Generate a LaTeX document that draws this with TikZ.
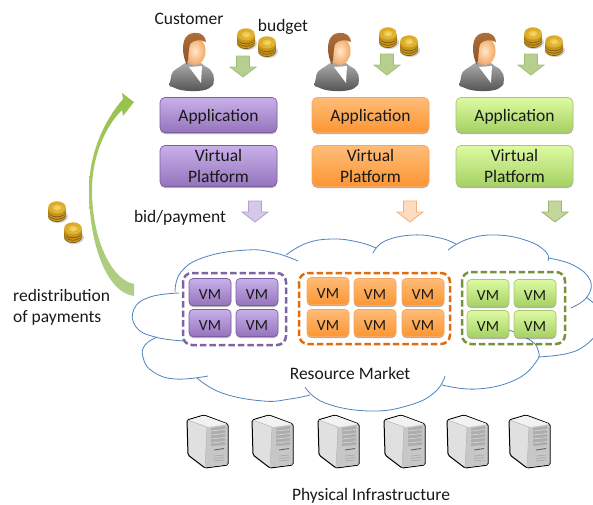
\documentclass[tikz,border=0pt]{standalone}
\usepackage{fontspec}
\setmainfont{Carlito}
\usetikzlibrary{shadows}
\definecolor{cloudline}{HTML}{4F81BD}
\definecolor{purpT}{HTML}{C9B0EA}\definecolor{purpB}{HTML}{9474BC}\definecolor{purpE}{HTML}{7C5EA0}
\definecolor{orT}{HTML}{FFBC78}\definecolor{orB}{HTML}{FC9633}\definecolor{orE}{HTML}{F7A765}
\definecolor{grT}{HTML}{DDFBA2}\definecolor{grB}{HTML}{A5D163}\definecolor{grE}{HTML}{A6C673}
\definecolor{dashP}{HTML}{8064A2}\definecolor{dashO}{HTML}{E36C0A}\definecolor{dashG}{HTML}{76923C}
\definecolor{arGE}{HTML}{A5BE7C}\definecolor{arGF}{HTML}{B7CF8E}
\definecolor{arGgE}{HTML}{9BB56A}\definecolor{arGgF}{HTML}{C3D69B}
\definecolor{arPE}{HTML}{B49FD0}\definecolor{arPF}{HTML}{D5C8E8}
\definecolor{arOE}{HTML}{F8AE74}\definecolor{arOF}{HTML}{FEDCC0}
\definecolor{bigT}{HTML}{97C24A}\definecolor{bigB}{HTML}{B3CE88}
\definecolor{coinIn}{HTML}{F7DC6A}\definecolor{coinOut}{HTML}{D9A520}\definecolor{coinSide}{HTML}{C8941A}\definecolor{coinDark}{HTML}{7A5A14}
\definecolor{skinIn}{HTML}{FFE6CC}\definecolor{skinOut}{HTML}{F3A860}
\definecolor{hairT}{HTML}{B0703A}\definecolor{hairB}{HTML}{8A5228}
\tikzset{
  x=1pt,y=-1pt,
  txt/.style={font=\fontsize{17.5}{21}\selectfont,text=black!90,inner sep=0pt,align=center},
  tbox/.style={rounded corners=5pt,draw,line width=.7pt,txt,
    execute at begin node={\rule{0pt}{15pt}},
    drop shadow={shadow xshift=0pt,shadow yshift=-1.5pt,opacity=.3,fill=black}},
  purpbox/.style={tbox,draw=purpE,top color=purpT,bottom color=purpB},
  orbox/.style={tbox,draw=orE,top color=orT,bottom color=orB},
  grbox/.style={tbox,draw=grE,top color=grT,bottom color=grB},
  appsize/.style={minimum width=117pt,minimum height=35pt},
  vpsize/.style={minimum width=117pt,minimum height=41pt},
  vmsize/.style={minimum width=42pt,minimum height=27pt,font=\fontsize{15.5}{17}\selectfont,rounded corners=4pt},
  dashbox/.style={rounded corners=9pt,line width=2.5pt,dash pattern=on 6.5pt off 3pt},
  cloudarc/.style={draw=cloudline,line width=.8pt},
  pics/blockarrow/.style n args={2}{code={
    \draw[draw=#1,fill=#2,line width=.8pt,line join=miter]
      (-6.5,0)--(6.5,0)--(6.5,11)--(13,11)--(0,21)--(-13,11)--(-6.5,11)--cycle;}},
  pics/goldcoin/.style={code={
    \fill[black,opacity=.18] (1,7.5) ellipse[x radius=10,y radius=6.5];
    \foreach \d in {6,3.6,1.2}{
      \fill[coinDark] (0,\d+.8) ellipse[x radius=9,y radius=6.2];
      \fill[coinSide] (0,\d) ellipse[x radius=9,y radius=6.2];}
    \shade[inner color=coinIn,outer color=coinOut] (0,-1.5) ellipse[x radius=8.8,y radius=6.2];
    \draw[coinSide,line width=.3pt] (0,-1.5) ellipse[x radius=5.5,y radius=3.8];}},
  pics/coinpair/.style={code={
    \pic at (0,0) {goldcoin}; \pic at (21,8) {goldcoin};}},
  pics/person/.style={code={
    \shade[top color=black!32,bottom color=black!68,rounded corners=3pt]
      (-5,2) .. controls (-12,8) and (-19,10) .. (-20,18)
      .. controls (-22,26) and (-22,26) .. (-18,27)
      .. controls (-8,32) and (12,32) .. (20,27)
      .. controls (23,24) and (23,16) .. (21,12)
      .. controls (18,8) and (13,6) .. (10,2) -- cycle;
    \fill[white] (-2,7)--(11,6)--(10,23)--cycle;
    \shade[inner color=skinIn,outer color=skinOut]
      (4,-9) ellipse[x radius=10.5,y radius=14];
    \shade[top color=hairT,bottom color=hairB]
      (-4,5) .. controls (-9,-4) and (-10,-20) .. (-3,-25)
      .. controls (3,-29) and (14,-28) .. (15,-18)
      .. controls (10,-21) and (2,-20) .. (-1,-16)
      .. controls (-3,-10) and (-2,-2) .. (-4,5) -- cycle;}},
  pics/serverbox/.style={code={
    \filldraw[draw=black,line width=1pt,fill=black!12,line join=round,rounded corners=1.5pt]
      (0,5)--(17,0)--(41,9)--(41,50)--(18,53)--(1,40)--cycle;
    \fill[black!5,rounded corners=1pt] (0.6,5.5)--(17,0.6)--(40.4,9)--(20,12)--cycle;
    \fill[black!22] (20,12.5)--(40.4,9.6)--(40.4,49.6)--(18.5,52.4)--cycle;
    \draw[black!30,line width=.5pt] (0.5,5)--(20,12)--(18,53);
    \fill[black!32] (24,13)--(38,11)--(38,30)--(24,31)--cycle;
    \foreach \k in {0,1,2,3}{\draw[black!14,line width=.6pt] (24,16+\k*4)--(38,14.5+\k*4);}
    \draw[black!60,line width=.9pt] (27,35)--(37,33.5);
    \foreach \k in {0,1,2}{\draw[black!35,line width=.6pt] (27,41+\k*2.5)--(37,40+\k*2.5);}}},
}
\begin{document}
\begin{tikzpicture}
\useasboundingbox (0,0) rectangle (593,504);
\clip (0,0) rectangle (593,504);
% cloud
\draw[cloudarc] plot[smooth,tension=.75] coordinates {(175,292)(181,272)(205,257)(247,250)(275,253)(298,261)};
\draw[cloudarc] plot[smooth,tension=.75] coordinates {(286,255)(307,243)(333,239)(358,242)(376,248)};
\draw[cloudarc] plot[smooth,tension=.75] coordinates {(373,253)(385,241)(413,235)(440,238)(456,244)};
\draw[cloudarc] plot[smooth,tension=.75] coordinates {(448,250)(468,239)(497,235)(528,241)(546,252)(548,261)};
\draw[cloudarc] plot[smooth,tension=.75] coordinates {(548,258)(573,265)(590,280)(587,297)(571,308)};
\draw[cloudarc] plot[smooth,tension=.75] coordinates {(586,297)(595,304)};
\draw[cloudarc] plot[smooth,tension=.75] coordinates {(179,293)(150,297)(134,309)(136,327)(155,337)(184,341)};
\draw[cloudarc] plot[smooth,tension=.75] coordinates {(157,337)(145,345)(143,357)(152,371)(175,379)(208,376)};
\draw[cloudarc] plot[smooth,tension=.75] coordinates {(197,378)(222,393)(263,401)(290,399)(310,395)};
\draw[cloudarc] plot[smooth,tension=.75] coordinates {(305,387)(325,403)(370,411)(410,405)(435,392)(445,376)};
\draw[cloudarc] plot[smooth,tension=.75] coordinates {(442,385)(477,389)(515,380)(536,362)(538,350)(530,340)(509,330)};
\draw[cloudarc] plot[smooth,tension=.75] coordinates {(538,357)(565,354)(583,347)(596,335)};
% dashed groups
\draw[dashbox,draw=dashP] (183,273) rectangle (286,345);
\draw[dashbox,draw=dashO] (299,273) rectangle (450,344);
\draw[dashbox,draw=dashG] (462,272) rectangle (565,344);
% VMs
\foreach \nm/\cx/\cy in {a/210/292,b/257/292,c/210/323,d/257/323}
  \node[purpbox,vmsize] (vmp\nm) at (\cx,\cy) {VM};
\foreach \nm/\cx/\cy in {a/328/291,b/375/292,c/423/292,d/328/323,e/375/323,f/423/323}
  \node[orbox,vmsize] (vmo\nm) at (\cx,\cy) {VM};
\foreach \nm/\cx/\cy in {a/488/293,b/535/293,c/488/324,d/535/324}
  \node[grbox,vmsize] (vmg\nm) at (\cx,\cy) {VM};
% application stacks
\node[purpbox,appsize] (app1) at (218.5,115) {Application};
\node[purpbox,vpsize] (vp1) at (218.5,166) {Virtual\\Platform};
\node[orbox,appsize] (app2) at (370.5,115) {Application};
\node[orbox,vpsize] (vp2) at (370.5,166) {Virtual\\Platform};
\node[grbox,appsize] (app3) at (514.5,115) {Application};
\node[grbox,vpsize] (vp3) at (514.5,166) {Virtual\\Platform};
% people, coins, arrows
\pic at (191,60) {person};
\pic at (336,60) {person};
\pic at (481,60) {person};
\pic at (246,36) {coinpair};
\pic at (388,35) {coinpair};
\pic at (533,35) {coinpair};
\pic at (57,209) {goldcoin};
\pic at (73,230) {goldcoin};
\pic at (243,56) {blockarrow={arGE}{arGF}};
\pic at (387,54) {blockarrow={arGE}{arGF}};
\pic at (531,54) {blockarrow={arGE}{arGF}};
\pic at (255,201) {blockarrow={arPE}{arPF}};
\pic at (410,201) {blockarrow={arOE}{arOF}};
\pic at (555,201) {blockarrow={arGgE}{arGgF}};
% redistribution arrow
\shade[top color=bigT,bottom color=bigB]
  (134,102)--(122,93)--(123,99)
  .. controls (103,122) and (89,155) .. (89,190)
  .. controls (89,240) and (105,292) .. (134,296)
  --(134,284)
  .. controls (112,280) and (92,240) .. (92,190)
  .. controls (92,158) and (104,128) .. (122,110)
  --(123,116)--cycle;
% servers
\foreach \sx in {187,252,318,384,447,509} \pic at (\sx,415) {serverbox};
% labels
\node[txt] (lblcust) at (189,18.5) {Customer};
\node[txt] (lblbudget) at (283,27) {budget};
\node[txt] (lblbid) at (180,217.5) {bid/payment};
\node[txt,align=left,anchor=west] (lblredis) at (13,307) {redistribution\\of payments};
\node[txt] (lblmarket) at (350,373) {Resource Market};
\node[txt] (lblphys) at (371,496) {Physical Infrastructure};
\end{tikzpicture}
\end{document}
